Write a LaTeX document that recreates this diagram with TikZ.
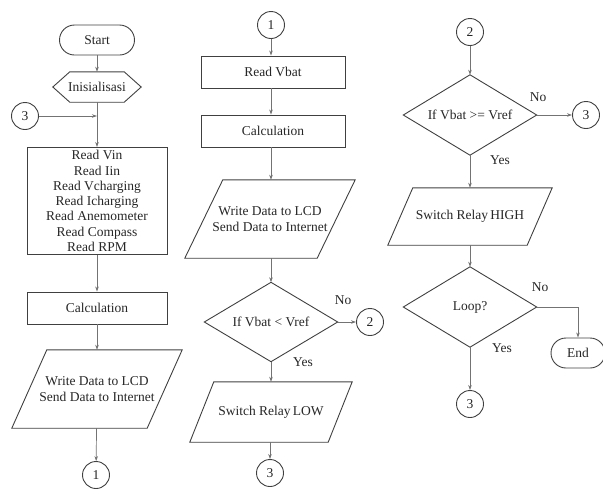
\documentclass[tikz,border=0pt]{standalone}
\usepackage{fontspec}
\setmainfont{Liberation Serif}
\usetikzlibrary{arrows.meta,calc}
\definecolor{edge}{gray}{0.25}
\definecolor{arrc}{gray}{0.45}
\definecolor{txt}{gray}{0.15}
\begin{document}
\begin{tikzpicture}[x=1pt,y=-1pt,
  every node/.style={font=\fontsize{13.5}{15.3}\selectfont, text=txt, inner sep=0pt},
  box/.style={draw=edge, line width=0.9pt, rectangle, minimum width=140, minimum height=32},
  term/.style={draw=edge, line width=0.9pt, rectangle, rounded corners=15pt, minimum height=30},
  conn/.style={draw=edge, line width=0.9pt, circle, minimum size=27},
  frm/.style={rectangle, align=center},
  shp/.style={draw=edge, line width=0.9pt, line join=miter},
  arr/.style={draw=arrc, line width=0.7pt, -{Stealth[length=5pt,width=3.5pt]}},
  lbl/.style={}
]
\useasboundingbox (0,0) rectangle (603,488);
% ---------- column 1
\node[term, minimum width=75] (start) at (97,40) {Start};
\node[frm, minimum width=88, minimum height=30] (init) at (97,87) {Inisialisasi};
\draw[shp] (init.west) -- ($(init.north west)+(17,0)$) -- ($(init.north east)+(-17,0)$) -- (init.east) -- ($(init.south east)+(-17,0)$) -- ($(init.south west)+(17,0)$) -- cycle;
\node[conn] (c3a) at (25,116) {3};
\node[box, minimum height=107, align=center] (read) at (97,201) {Read Vin\\Read Iin\\Read Vcharging\\Read Icharging\\Read Anemometer\\Read Compass\\Read RPM};
\node[box] (calc1) at (97,308) {Calculation};
\node[frm, minimum width=170, minimum height=78] (w1) at (97,389) {Write Data to LCD\\Send Data to Internet};
\draw[shp] ($(w1.north west)+(35,0)$) -- (w1.north east) -- ($(w1.south east)+(-35,0)$) -- (w1.south west) -- cycle;
\node[conn] (c1a) at (96,475) {1};
\draw[arr] (start) -- (init);
\draw[arr] (init) -- (read);
\draw[arr] (c3a) -- (c3a -| read.north);
\draw[arr] (read) -- (calc1);
\draw[arr] (calc1) -- (w1);
\draw[arr] (w1) -- (c1a);
% ---------- column 2
\node[conn] (c1b) at (271,25) {1};
\node[box, minimum width=144] (vbat) at (273,72) {Read Vbat};
\node[box, minimum width=144] (calc2) at (273,131) {Calculation};
\node[frm, minimum width=170, minimum height=78] (w2) at (270,219) {Write Data to LCD\\Send Data to Internet};
\draw[shp] ($(w2.north west)+(38,0)$) -- (w2.north east) -- ($(w2.south east)+(-38,0)$) -- (w2.south west) -- cycle;
\node[frm, minimum width=133, minimum height=79] (d1) at (271,322) {If Vbat < Vref};
\draw[shp] (d1.north) -- (d1.east) -- (d1.south) -- (d1.west) -- cycle;
\node[conn] (c2a) at (370,322) {2};
\node[frm, minimum width=162, minimum height=60] (low) at (271,412) {Switch Relay\,LOW};
\draw[shp] ($(low.north west)+(24,0)$) -- (low.north east) -- ($(low.south east)+(-24,0)$) -- (low.south west) -- cycle;
\node[conn] (c3b) at (270,473) {3};
\node[lbl] (no1) at (343,300) {No};
\node[lbl] (yes1) at (303,362) {Yes};
\draw[arr] (c1b) -- (c1b |- vbat.north);
\draw[arr] (vbat.south -| c1b) -- (c1b |- calc2.north);
\draw[arr] (calc2.south -| c1b) -- (c1b |- w2.north);
\draw[arr] (w2.south -| d1) -- (d1.north);
\draw[arr] (d1.east) -- (c2a);
\draw[arr] (d1.south) -- (low.north);
\draw[arr] (low.south -| c3b) -- (c3b);
% ---------- column 3
\node[conn] (c2b) at (470,32) {2};
\node[frm, minimum width=133, minimum height=80] (d2) at (470,115) {If Vbat >= Vref};
\draw[shp] (d2.north) -- (d2.east) -- (d2.south) -- (d2.west) -- cycle;
\node[conn] (c3c) at (586,115) {3};
\node[frm, minimum width=164, minimum height=57] (high) at (470,216.5) {Switch Relay\,HIGH};
\draw[shp] ($(high.north west)+(25,0)$) -- (high.north east) -- ($(high.south east)+(-25,0)$) -- (high.south west) -- cycle;
\node[frm, minimum width=133, minimum height=80] (loop) at (470,307) {Loop?};
\draw[shp] (loop.north) -- (loop.east) -- (loop.south) -- (loop.west) -- cycle;
\node[term, minimum width=54] (end) at (578,353) {End};
\node[conn] (c3d) at (470,404) {3};
\node[lbl] (no2) at (538,97) {No};
\node[lbl] (yes2) at (500,160) {Yes};
\node[lbl] (no3) at (540,287) {No};
\node[lbl] (yes3) at (502,348) {Yes};
\draw[arr] (c2b) -- (d2.north);
\draw[arr] (d2.east) -- (c3c);
\draw[arr] (d2.south) -- (high.north);
\draw[arr] (high.south) -- (loop.north);
\draw[arr] (loop.east) -| (end.north);
\draw[arr] (loop.south) -- (c3d);
\end{tikzpicture}
\end{document}
